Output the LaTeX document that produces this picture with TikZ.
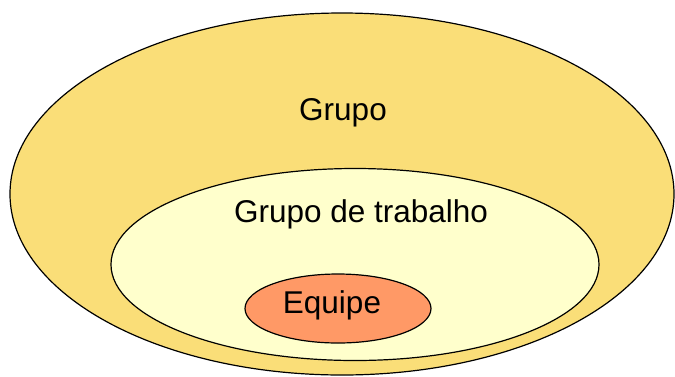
\documentclass[tikz,border=0pt]{standalone}
\usepackage{fontspec}
\setmainfont{Liberation Sans}
\usetikzlibrary{shapes.geometric}

\begin{document}
\begin{tikzpicture}[x=1pt,y=-1pt]
	\definecolor{cfgrupo}{rgb}{0.98,0.87,0.47}
	\definecolor{cftrab}{rgb}{1.0,1.0,0.80}
	\definecolor{cfequipe}{rgb}{1.0,0.60,0.40}
	\tikzset{
		conj/.style={shape=ellipse,draw=black,line width=1.2pt,inner sep=0pt},
		rotulo/.style={anchor=base,inner sep=0pt,font=\fontsize{31.5}{36}\selectfont},
	}
	%
	\useasboundingbox (0,0) rectangle (675,376);
	%
	\node[conj,fill=cfgrupo,minimum width=664pt,minimum height=362pt] (grupo) at (342,194) {};
	\node[conj,fill=cftrab,minimum width=488pt,minimum height=192pt] (trabalho) at (355,264.5) {};
	\node[conj,fill=cfequipe,minimum width=186pt,minimum height=69pt] (equipe) at (338,308.5) {};
	%
	\node[rotulo] (lgrupo) at (343,120) {Grupo};
	\node[rotulo] (ltrabalho) at (361,222) {Grupo de trabalho};
	\node[rotulo] (lequipe) at (332,313) {Equipe};
	%
\end{tikzpicture}
\end{document}
